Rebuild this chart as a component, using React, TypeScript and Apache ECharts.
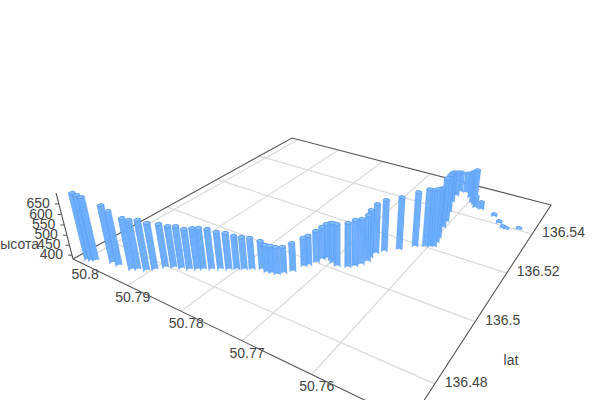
import React, { useEffect, useRef } from "react";
import * as echarts from "echarts";

const lngTicks = [50.8, 50.79, 50.78, 50.77, 50.76];
const latTicks = [136.48, 136.5, 136.52, 136.54];
const zTicks = [400, 450, 500, 550, 600, 650];

const lngValues = [
  50.7996, 50.7989, 50.7984, 50.7959, 50.7946, 50.7923, 50.7916, 50.7904, 50.7896, 50.7887, 50.7877,
  50.7866, 50.7855, 50.7846, 50.7839, 50.7829, 50.7819, 50.7809, 50.78, 50.7791, 50.7782, 50.777,
  50.776, 50.7753, 50.7745, 50.7739, 50.7731, 50.7725, 50.7721, 50.7716, 50.7713, 50.7709, 50.7701,
  50.7695, 50.7686, 50.7672, 50.7665, 50.766, 50.7656, 50.7658, 50.7656, 50.7648, 50.7632, 50.7616,
  50.7603, 50.7597, 50.7593, 50.7594, 50.7597, 50.7603, 50.7606, 50.7615, 50.7624, 50.7626, 50.7626,
  50.7616, 50.7603, 50.7594, 50.7589, 50.7583, 50.7573, 50.7547, 50.7533, 50.7523, 50.7518, 50.7501,
];
const latValues = [
  136.4717, 136.4719, 136.4724, 136.474, 136.474, 136.4745, 136.4753, 136.4761, 136.4774, 136.4793, 136.4803,
  136.481, 136.4817, 136.4827, 136.4835, 136.4845, 136.4856, 136.4866, 136.4876, 136.4885, 136.4895, 136.4907,
  136.4904, 136.4907, 136.491, 136.4922, 136.4939, 136.4969, 136.4979, 136.4998, 136.5016, 136.5025, 136.5024,
  136.5016, 136.5011, 136.5021, 136.5033, 136.5048, 136.5066, 136.5084, 136.5107, 136.5125, 136.5152, 136.5185,
  136.5198, 136.5205, 136.5209, 136.523, 136.5254, 136.5305, 136.5338, 136.5391, 136.5448, 136.5488, 136.5517,
  136.552, 136.5498, 136.5473, 136.5465, 136.545, 136.5449, 136.5431, 136.5403, 136.5384, 136.5384, 136.5402,
];
const heightValues = [
  704, 699, 690, 661, 646, 631, 622, 626, 608, 595, 585,
  589, 580, 584, 584, 580, 566, 561, 547, 542, 537, 523,
  517, 517, 517, 512, 522, 524, 529, 539, 545, 555, 568,
  582, 590, 599, 609, 605, 611, 617, 628, 639, 644, 655,
  669, 665, 669, 652, 635, 640, 628, 592, 548, 517, 495,
  495, 527, 558, 574, 447, 425, 397, 396, 396, 391, 391,
];

const lngMin = 50.748, lngMax = 50.8016, latMin = 136.47, latMax = 136.558, zMin = 380, zMax = 700;
const C = { L: [73, 259], F: [410, 422], R: [551, 205], B: [292, 138] };
const V = [340, 1300], K = -0.0596;

const [x0, y0] = C.L, [x1, y1] = C.F, [x2, y2] = C.R, [x3, y3] = C.B;
const dx1 = x1 - x2, dx2 = x3 - x2, sx = x0 - x1 + x2 - x3;
const dy1 = y1 - y2, dy2 = y3 - y2, sy = y0 - y1 + y2 - y3;
const den = dx1 * dy2 - dx2 * dy1;
const g = (sx * dy2 - dx2 * sy) / den, h = (dx1 * sy - sx * dy1) / den;
const a = x1 - x0 + g * x1, b = x3 - x0 + h * x3, c = x0;
const d = y1 - y0 + g * y1, e = y3 - y0 + h * y3, f = y0;

function projUnit(p: number, q: number, z: number) {
  const w = g * p + h * q + 1 + z * K;
  return [(a * p + b * q + c + z * K * V[0]) / w, (d * p + e * q + f + z * K * V[1]) / w];
}
const pOf = (lng: number) => (lngMax - lng) / (lngMax - lngMin);
const qOf = (lat: number) => (lat - latMin) / (latMax - latMin);
const zOf = (v: number) => (v - zMin) / (zMax - zMin);
const project = (lng: number, lat: number, v: number) => projUnit(pOf(lng), qOf(lat), zOf(v));

const bars = lngValues.map((lng, i) => [lng, latValues[i], heightValues[i]]);
bars.sort((m, n) => (g * pOf(n[0]) + h * qOf(n[1])) - (g * pOf(m[0]) + h * qOf(m[1])));

const GRID = "#dadada", AXIS = "#555", TXT = "#444", FONT = "Liberation Sans, Arial, sans-serif";
const SIZE = 0.0075, BEV = 0.45;
const OCT = [[1, BEV], [BEV, 1], [-BEV, 1], [-1, BEV], [-1, -BEV], [-BEV, -1], [BEV, -1], [1, -BEV]];

function renderBar(_: any, api: any) {
  const p = pOf(api.value(0)), q = qOf(api.value(1)), z = zOf(api.value(2));
  const base = OCT.map(([i, j]) => projUnit(p + i * SIZE, q + j * SIZE, 0));
  const top = OCT.map(([i, j]) => projUnit(p + i * SIZE, q + j * SIZE, z));
  const children: any[] = [];
  const n = OCT.length;
  let areaSign = 0;
  for (let i = 0; i < n; i++) {
    const A = top[i], B = top[(i + 1) % n];
    areaSign += A[0] * B[1] - B[0] * A[1];
  }
  for (let i = 0; i < n; i++) {
    const j = (i + 1) % n;
    const cr = (base[j][0] - base[i][0]) * (top[i][1] - base[i][1]) - (base[j][1] - base[i][1]) * (top[i][0] - base[i][0]);
    if (cr * areaSign < 0) {
      children.push({
        type: "polygon",
        shape: { points: [base[i], base[j], top[j], top[i]] },
        style: { fill: "#6fb2ff", stroke: "#5b9df6", lineWidth: 0.4 },
      });
    }
  }
  children.push({ type: "polygon", shape: { points: top }, style: { fill: "#86bfff", stroke: "#4a8df0", lineWidth: 0.5 } });
  return { type: "group", children };
}

function renderLng(_: any, api: any) {
  const v = api.value(0);
  const s = project(v, latMin, zMin), t = project(v, latMax, zMin);
  return { type: "group", children: [
    { type: "line", shape: { x1: s[0], y1: s[1], x2: t[0], y2: t[1] }, style: { stroke: GRID, lineWidth: 1.2 } },
    { type: "text", x: s[0] + 5, y: s[1] + 12, style: { text: String(v), fill: TXT, font: `14px ${FONT}`, align: "center", verticalAlign: "middle" } },
  ] };
}
function renderLat(_: any, api: any) {
  const v = api.value(0);
  const s = project(lngMin, v, zMin), t = project(lngMax, v, zMin);
  return { type: "group", children: [
    { type: "line", shape: { x1: s[0], y1: s[1], x2: t[0], y2: t[1] }, style: { stroke: GRID, lineWidth: 1.2 } },
    { type: "text", x: s[0] + 10, y: s[1] - 2, style: { text: String(v), fill: TXT, font: `14px ${FONT}`, align: "left", verticalAlign: "middle" } },
  ] };
}
function renderZ(_: any, api: any) {
  const v = api.value(0);
  const s = project(lngMax, latMin, v);
  return { type: "group", children: [
    { type: "line", shape: { x1: s[0], y1: s[1], x2: s[0] - 4, y2: s[1] }, style: { stroke: AXIS, lineWidth: 1 } },
    { type: "text", x: s[0] - 9, y: s[1] - 1, style: { text: String(v), fill: TXT, font: `14px ${FONT}`, align: "right", verticalAlign: "middle" } },
  ] };
}
function renderFrame() {
  const pts = [project(lngMax, latMin, zMin), project(lngMin, latMin, zMin), project(lngMin, latMax, zMin), project(lngMax, latMax, zMin), project(lngMax, latMin, zMin)];
  const ztop = project(lngMax, latMin, zMax);
  return { type: "group", children: [
    { type: "polyline", shape: { points: pts }, style: { stroke: AXIS, fill: "none", lineWidth: 1.1 } },
    { type: "line", shape: { x1: pts[0][0], y1: pts[0][1], x2: ztop[0], y2: ztop[1] }, style: { stroke: AXIS, lineWidth: 1.1 } },
    { type: "text", x: 39, y: 244, style: { text: "высота", fill: TXT, font: `14px ${FONT}`, align: "right", verticalAlign: "middle" } },
    { type: "text", x: 511, y: 360, style: { text: "lat", fill: TXT, font: `14px ${FONT}`, align: "center", verticalAlign: "middle" } },
  ] };
}

export default function App() {
  const ref = useRef<HTMLDivElement>(null);
  useEffect(() => {
    const chart = echarts.init(ref.current!, undefined, { renderer: "svg" });
    const base = { type: "custom", coordinateSystem: "none", silent: true, clip: false };
    chart.setOption({
      animation: false,
      series: [
        { ...base, data: lngTicks.map((v) => [v]), renderItem: renderLng },
        { ...base, data: latTicks.map((v) => [v]), renderItem: renderLat },
        { ...base, data: [[0]], renderItem: renderFrame },
        { ...base, data: zTicks.map((v) => [v]), renderItem: renderZ },
        { ...base, data: bars, renderItem: renderBar },
      ],
    });
    return () => chart.dispose();
  }, []);
  return <div ref={ref} style={{ position: "absolute", left: 0, top: 0, width: 600, height: 400 }} />;
}
